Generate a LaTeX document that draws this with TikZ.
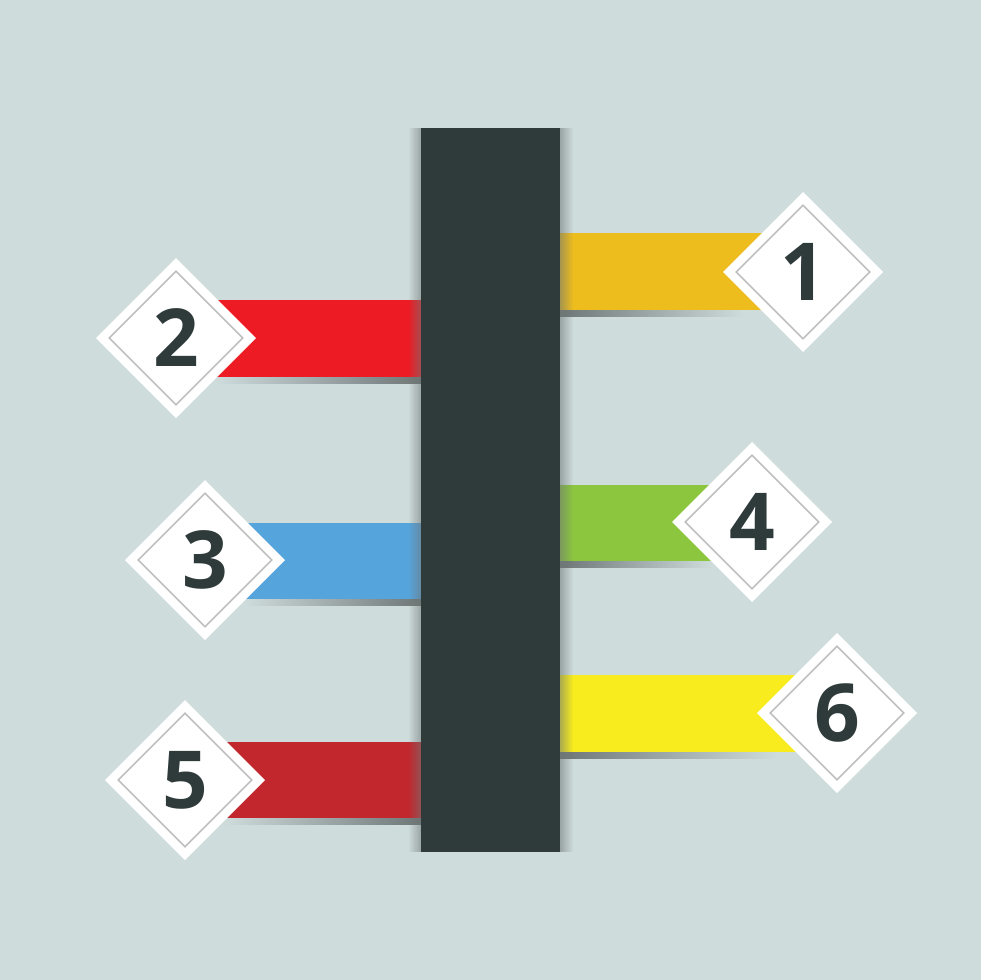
\documentclass[tikz,border=0pt]{standalone}
\usepackage{fontspec}
\setmainfont{Open Sans}
\usetikzlibrary{shapes.geometric, fadings}

\definecolor{bgcol}{RGB}{207,220,220}
\definecolor{barcol}{RGB}{47,58,58}
\definecolor{shd}{RGB}{110,118,118}
\definecolor{rib1}{RGB}{237,189,30}
\definecolor{rib2}{RGB}{237,28,36}
\definecolor{rib3}{RGB}{86,164,220}
\definecolor{rib4}{RGB}{140,198,63}
\definecolor{rib5}{RGB}{193,39,45}
\definecolor{rib6}{RGB}{248,236,30}

\tikzfading[name=fadeleft, left color=transparent!100, right color=transparent!45]
\tikzfading[name=faderight, left color=transparent!45, right color=transparent!100]

\tikzset{
    bar/.style={rectangle, fill=barcol, minimum width=139pt, minimum height=724pt, inner sep=0pt, outer sep=0pt},
    num/.style={diamond, fill=white, minimum width=160pt, minimum height=160pt, inner sep=0pt, outer sep=0pt,
        text=barcol, font=\fontsize{80}{80}\selectfont\bfseries},
    rim/.style={diamond, draw=gray!50, line width=1.6pt, minimum width=134pt, minimum height=134pt, inner sep=0pt}
}

\begin{document}
\begin{tikzpicture}[x=1pt, y=-1pt]
        \useasboundingbox (0,0) rectangle (980,980);
        \fill[bgcol] (-10,-10) rectangle (990,990);

        \node[bar] (bar) at (490.5,490) {};

        \coordinate (c1) at (803,272);
        \coordinate (c2) at (176,338);
        \coordinate (c3) at (205,560);
        \coordinate (c4) at (752,522);
        \coordinate (c5) at (185,780);
        \coordinate (c6) at (837,713);

        \fill[rib1] (bar.east |- 0,233) rectangle (c1 |- 0,310);
        \fill[rib2] (c2 |- 0,300) rectangle (bar.west |- 0,377);
        \fill[rib3] (c3 |- 0,523) rectangle (bar.west |- 0,599);
        \fill[rib4] (bar.east |- 0,485) rectangle (c4 |- 0,561);
        \fill[rib5] (c5 |- 0,742) rectangle (bar.west |- 0,818);
        \fill[rib6] (bar.east |- 0,675) rectangle (c6 |- 0,752);

        \shade[left color=shd, right color=bgcol] (bar.east |- 0,310) rectangle ([xshift=-60pt]c1 |- 0,316);
        \shade[left color=bgcol, right color=shd] ([xshift=40pt]c2 |- 0,377) rectangle (bar.west |- 0,383);
        \shade[left color=bgcol, right color=shd] ([xshift=40pt]c3 |- 0,599) rectangle (bar.west |- 0,605);
        \shade[left color=shd, right color=bgcol] (bar.east |- 0,561) rectangle ([xshift=-40pt]c4 |- 0,567);
        \shade[left color=bgcol, right color=shd] ([xshift=40pt]c5 |- 0,818) rectangle (bar.west |- 0,824);
        \shade[left color=shd, right color=bgcol] (bar.east |- 0,752) rectangle ([xshift=-60pt]c6 |- 0,758);

        \fill[shd, path fading=fadeleft] (bar.north west) ++(-13,0) rectangle (bar.south west);
        \fill[shd, path fading=faderight] (bar.north east) rectangle ([xshift=13pt]bar.south east);
        \node[bar] at (bar) {};

        \node[num] (d1) at (c1) {1};
        \node[num] (d2) at (c2) {2};
        \node[num] (d3) at (c3) {3};
        \node[num] (d4) at (c4) {4};
        \node[num] (d5) at (c5) {5};
        \node[num] (d6) at (c6) {6};

        \node[rim] (r1) at (d1) {};
        \node[rim] (r2) at (d2) {};
        \node[rim] (r3) at (d3) {};
        \node[rim] (r4) at (d4) {};
        \node[rim] (r5) at (d5) {};
        \node[rim] (r6) at (d6) {};
\end{tikzpicture}
\end{document}
